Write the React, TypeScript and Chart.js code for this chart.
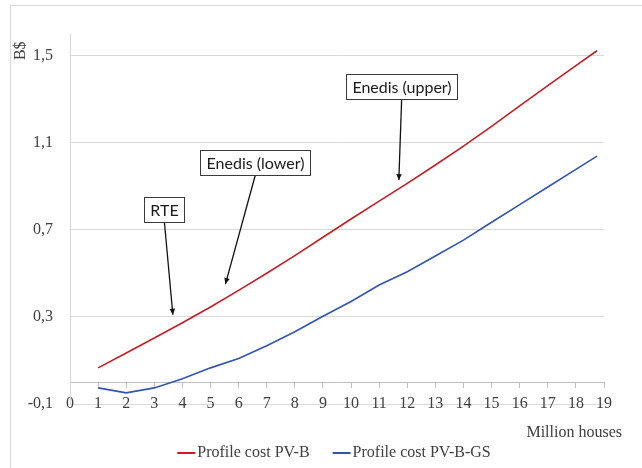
import React, { useEffect, useRef } from "react";
import { Chart, registerables } from "chart.js";

Chart.register(...registerables);

// ---- data ----
const houses = [1, 2, 3, 4, 5, 6, 7, 8, 9, 10, 11, 12, 13, 14, 15, 16, 17, 18, 18.75];
const profileCostPVB = [
  0.066, 0.134, 0.203, 0.273, 0.346, 0.422, 0.501, 0.582, 0.666, 0.75, 0.832, 0.914,
  0.998, 1.085, 1.176, 1.27, 1.363, 1.455, 1.523,
];
const profileCostPVBGS = [
  -0.026, -0.049, -0.026, 0.016, 0.066, 0.109, 0.168, 0.232, 0.303, 0.371, 0.447, 0.508,
  0.58, 0.653, 0.735, 0.816, 0.897, 0.978, 1.039,
];
const yTickValues = [-0.1, 0.3, 0.7, 1.1, 1.5];
const seriesLabels = ["Profile cost PV-B", "Profile cost PV-B-GS"];
const xTitle = "Million houses";
const yTitle = "B$";
const calloutTexts = ["RTE", "Enedis (lower)", "Enedis (upper)"];
// callout anchors in data coordinates: box centre and arrow tip
const calloutBoxX = [3.36, 6.59, 11.8];
const calloutBoxY = [0.794, 1.011, 1.359];
const calloutTipX = [3.66, 5.53, 11.7];
const calloutTipY = [0.31, 0.451, 0.929];

const SERIF = '"Liberation Serif", "Times New Roman", serif';
const TEXT = "#404040";

const decorPlugin = {
  id: "decor",
  beforeDraw(chart: any) {
    const ctx = chart.ctx;
    ctx.save();
    ctx.fillStyle = "#ffffff";
    ctx.fillRect(0, 0, chart.width, chart.height);
    ctx.strokeStyle = "#d9d9d9";
    ctx.lineWidth = 1;
    ctx.strokeRect(10.5, 5.5, chart.width + 20, chart.height + 20);
    ctx.restore();
  },
  afterDraw(chart: any) {
    const { ctx, chartArea: a, scales } = chart;
    const x = scales.x;
    const y = scales.y;
    ctx.save();

    // y title (rotated, at top)
    ctx.font = `16px ${SERIF}`;
    ctx.fillStyle = TEXT;
    ctx.save();
    ctx.translate(a.left - 49, y.getPixelForValue(1.5) - 5);
    ctx.rotate(-Math.PI / 2);
    ctx.textAlign = "center";
    ctx.textBaseline = "middle";
    ctx.fillText(yTitle, 0, 0);
    ctx.restore();

    // x title (right aligned)
    ctx.textAlign = "right";
    ctx.textBaseline = "middle";
    ctx.fillText(xTitle, a.right + 18, a.bottom + 29);

    // legend
    ctx.textAlign = "left";
    const items = chart.data.datasets.map((ds: any) => {
      const tw = ctx.measureText(ds.label).width;
      return { label: ds.label, color: ds.borderColor, w: 18 + 2 + tw };
    });
    const gap = 23;
    const total = items.reduce((s: number, it: any) => s + it.w, 0) + gap * (items.length - 1);
    let lx = (a.left + a.right) / 2 - total / 2 - 3;
    const ly = a.bottom + 49;
    items.forEach((it: any) => {
      ctx.strokeStyle = it.color;
      ctx.lineWidth = 2;
      ctx.beginPath();
      ctx.moveTo(lx, ly);
      ctx.lineTo(lx + 18, ly);
      ctx.stroke();
      ctx.fillStyle = TEXT;
      ctx.fillText(it.label, lx + 20, ly);
      lx += it.w + gap;
    });

    // callouts
    ctx.font = '16px Lato, "Open Sans", sans-serif';
    calloutTexts.forEach((t, i) => {
      const bx = x.getPixelForValue(calloutBoxX[i]);
      const by = y.getPixelForValue(calloutBoxY[i]);
      const tx = x.getPixelForValue(calloutTipX[i]);
      const ty = y.getPixelForValue(calloutTipY[i]);
      const tw = ctx.measureText(t).width;
      const w = Math.round(tw + 12);
      const h = 25;
      const left = Math.round(bx - w / 2) + 0.5;
      const top = Math.round(by - h / 2) + 0.5;
      const sx = bx;
      const sy = top + h;
      // arrow line
      ctx.strokeStyle = "#111";
      ctx.lineWidth = 1.3;
      ctx.beginPath();
      ctx.moveTo(sx, sy);
      ctx.lineTo(tx, ty);
      ctx.stroke();
      // arrow head
      const ang = Math.atan2(ty - sy, tx - sx);
      const hl = 6;
      const hw = 2.8;
      ctx.fillStyle = "#111";
      ctx.beginPath();
      ctx.moveTo(tx, ty);
      ctx.lineTo(tx - hl * Math.cos(ang) + hw * Math.sin(ang), ty - hl * Math.sin(ang) - hw * Math.cos(ang));
      ctx.lineTo(tx - hl * Math.cos(ang) - hw * Math.sin(ang), ty - hl * Math.sin(ang) + hw * Math.cos(ang));
      ctx.closePath();
      ctx.fill();
      // box
      ctx.fillStyle = "#ffffff";
      ctx.fillRect(left, top, w, h);
      ctx.strokeStyle = "#3a3a3a";
      ctx.lineWidth = 1;
      ctx.strokeRect(left, top, w, h);
      ctx.fillStyle = "#1a1a1a";
      ctx.textAlign = "center";
      ctx.textBaseline = "middle";
      ctx.fillText(t, left + w / 2, top + h / 2 + 1);
    });

    ctx.restore();
  },
};

export default function App() {
  const canvasRef = useRef<HTMLCanvasElement | null>(null);

  useEffect(() => {
    const canvas = canvasRef.current;
    if (!canvas) return;
    const chart = new Chart(canvas, {
      type: "line",
      data: {
        datasets: [
          {
            label: seriesLabels[0],
            data: houses.map((h, i) => ({ x: h, y: profileCostPVB[i] })),
            borderColor: "#c41e24",
            backgroundColor: "#c41e24",
            borderWidth: 1.6,
            pointRadius: 0,
            tension: 0,
            fill: false,
          },
          {
            label: seriesLabels[1],
            data: houses.map((h, i) => ({ x: h, y: profileCostPVBGS[i] })),
            borderColor: "#3155b0",
            backgroundColor: "#3155b0",
            borderWidth: 1.6,
            pointRadius: 0,
            tension: 0,
            fill: false,
          },
        ],
      },
      options: {
        responsive: false,
        animation: false,
        devicePixelRatio: 1,
        layout: { padding: { left: 8, right: 38, top: 34, bottom: 64 } },
        plugins: {
          legend: { display: false },
          tooltip: { enabled: false },
        },
        scales: {
          x: {
            type: "linear",
            min: 0,
            max: 19,
            position: { y: 0 } as any,
            ticks: {
              stepSize: 1,
              autoSkip: false,
              maxRotation: 0,
              padding: 7,
              color: TEXT,
              font: { family: SERIF, size: 16 },
            },
            grid: { drawOnChartArea: false, drawTicks: true, tickLength: 5, color: "#bfbfbf" },
            border: { color: "#bfbfbf" },
          },
          y: {
            type: "linear",
            min: -0.1,
            max: 1.6,
            afterBuildTicks: (s: any) => {
              s.ticks = yTickValues.map((v) => ({ value: v }));
            },
            afterFit: (s: any) => {
              s.width = 62;
            },
            ticks: {
              padding: 17,
              color: TEXT,
              font: { family: SERIF, size: 16 },
              callback: (v: any) => Number(v).toFixed(1).replace(".", ","),
            },
            grid: { color: "#d9d9d9", drawTicks: false },
            border: { color: "#d9d9d9" },
          },
        },
      },
      plugins: [decorPlugin],
    });
    return () => chart.destroy();
  }, []);

  return (
    <div
      style={{
        position: "fixed",
        left: 0,
        top: 0,
        width: 642,
        height: 468,
        background: "#ffffff",
        overflow: "hidden",
      }}
    >
      <canvas ref={canvasRef} width={642} height={468} style={{ width: 642, height: 468, display: "block" }} />
    </div>
  );
}
